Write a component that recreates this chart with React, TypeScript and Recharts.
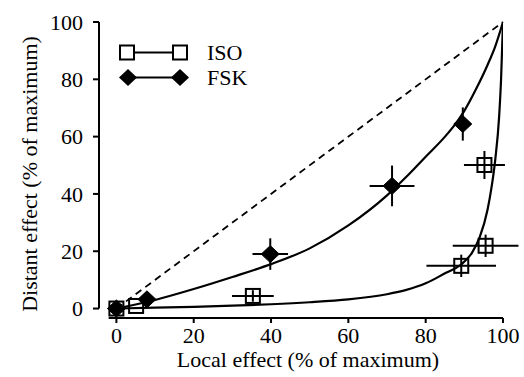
import React from "react";
import {
  ComposedChart,
  Line,
  Scatter,
  XAxis,
  YAxis,
  ErrorBar,
  ReferenceLine,
} from "recharts";

// ---- data ----
const xTicks = [0, 20, 40, 60, 80, 100];
const yTicks = [0, 20, 40, 60, 80, 100];

const isoPoints = [
  { x: 0, y: 0, ex: 0, ey: 0 },
  { x: 5.1, y: 0.9, ex: 0, ey: 0 },
  { x: 35.3, y: 4.4, ex: 5.4, ey: 2 },
  { x: 89.2, y: 14.9, ex: 9, ey: 3.9 },
  { x: 95.5, y: 21.9, ex: 8.5, ey: 3.9 },
  { x: 95.2, y: 50.1, ex: 5.3, ey: 4.9 },
];

const fskPoints = [
  { x: 0, y: 0, ex: 0, ey: 0 },
  { x: 7.9, y: 3.2, ex: 0, ey: 0 },
  { x: 39.8, y: 19.0, ex: 4.6, ey: 5.5 },
  { x: 71.3, y: 42.8, ex: 5.8, ey: 7.1 },
  { x: 89.6, y: 64.4, ex: 2, ey: 5.8 },
];

const isoCurveX = [0, 10, 20, 30, 40, 50, 60, 70, 75, 80, 85, 89, 92, 94, 96, 97, 98, 99, 99.5, 100];
const isoCurveY = [0, 0.3, 0.6, 1.0, 1.5, 2.2, 3.2, 5.0, 6.5, 8.8, 12.3, 15.2, 19.5, 25, 34.5, 42, 52, 67, 80, 100];

const fskCurveX = [0, 10, 20, 30, 40, 50, 60, 70, 75, 80, 85, 88, 90, 93, 96, 98, 100];
const fskCurveY = [0, 3, 6.8, 11, 15.5, 21, 29, 39.5, 46, 53, 60, 65, 69, 76.5, 85, 91.5, 100];

const isoCurve = isoCurveX.map((x, i) => ({ x, y: isoCurveY[i] }));
const fskCurve = fskCurveX.map((x, i) => ({ x, y: fskCurveY[i] }));

const FONT = "Liberation Serif, Times New Roman, DejaVu Serif, serif";
const fontStyle = { fontFamily: FONT };

const SquareShape = (props: any) => {
  const { cx, cy } = props;
  if (cx == null || cy == null) return null;
  return (
    <rect x={cx - 7} y={cy - 7} width={14} height={14} fill="none" stroke="#000" strokeWidth={2} />
  );
};

const DiamondShape = (props: any) => {
  const { cx, cy } = props;
  if (cx == null || cy == null) return null;
  return (
    <polygon
      points={`${cx},${cy - 8.5} ${cx + 9},${cy} ${cx},${cy + 8.5} ${cx - 9},${cy}`}
      fill="#000"
      stroke="#000"
      strokeWidth={1}
    />
  );
};

const YLabel = () => (
  <text
    x={37}
    y={174}
    transform="rotate(-90 37 174)"
    textAnchor="middle"
    style={fontStyle}
    fontSize={22}
    fill="#000"
  >
    Distant effect (% of maximum)
  </text>
);

const XLabel = () => (
  <text x={308} y={367} textAnchor="middle" style={fontStyle} fontSize={22} fill="#000">
    Local effect (% of maximum)
  </text>
);

export default function App() {
  return (
    <div
      style={{
        position: "absolute",
        left: 0,
        top: 0,
        width: 524,
        height: 377,
        background: "#fff",
        fontFamily: FONT,
      }}
    >
      <ComposedChart
        width={524}
        height={377}
        margin={{ top: 22, right: 21, bottom: 29, left: 0 }}
        style={{ position: "absolute", left: 0, top: 0, fontFamily: FONT }}
      >
        <XAxis
          type="number"
          dataKey="x"
          domain={[-4.5, 100]}
          ticks={xTicks}
          allowDataOverflow
          height={30}
          axisLine={false}
          tickLine={{ stroke: "#000", strokeWidth: 2 }}
          tickSize={5}
          tickMargin={4}
          tick={{ fill: "#000", fontFamily: FONT, fontSize: 22, style: fontStyle }}
          label={<XLabel />}
        />
        <YAxis
          type="number"
          dataKey="y"
          domain={[-3.3, 100]}
          ticks={yTicks}
          allowDataOverflow
          width={99}
          axisLine={false}
          tickLine={{ stroke: "#000", strokeWidth: 2 }}
          tickSize={6}
          tickMargin={10}
          tick={{ fill: "#000", fontFamily: FONT, fontSize: 22, style: fontStyle }}
          label={<YLabel />}
        />
        <ReferenceLine
          segment={[{ x: -4.5, y: 0 }, { x: -4.5, y: 100 }]}
          stroke="#000"
          strokeWidth={2}
          ifOverflow="visible"
        />
        <ReferenceLine
          segment={[{ x: -2, y: -3.3 }, { x: 100, y: -3.3 }]}
          stroke="#000"
          strokeWidth={2}
          ifOverflow="visible"
        />
        <ReferenceLine
          segment={[{ x: 0, y: 0 }, { x: 100, y: 100 }]}
          stroke="#000"
          strokeWidth={1.8}
          strokeDasharray="7 5"
          ifOverflow="visible"
        />
        <Line
          data={isoCurve}
          dataKey="y"
          type="monotone"
          stroke="#000"
          strokeWidth={2.2}
          dot={false}
          activeDot={false}
          isAnimationActive={false}
        />
        <Line
          data={fskCurve}
          dataKey="y"
          type="monotone"
          stroke="#000"
          strokeWidth={2.2}
          dot={false}
          activeDot={false}
          isAnimationActive={false}
        />
        <Scatter data={fskPoints} dataKey="y" shape={<DiamondShape />} isAnimationActive={false}>
          <ErrorBar dataKey="ex" direction="x" width={0} stroke="#000" strokeWidth={2} />
          <ErrorBar dataKey="ey" direction="y" width={0} stroke="#000" strokeWidth={2} />
        </Scatter>
        <Scatter data={isoPoints} dataKey="y" shape={<SquareShape />} isAnimationActive={false}>
          <ErrorBar dataKey="ex" direction="x" width={0} stroke="#000" strokeWidth={2} />
          <ErrorBar dataKey="ey" direction="y" width={0} stroke="#000" strokeWidth={2} />
        </Scatter>
      </ComposedChart>
      <svg
        width={524}
        height={377}
        style={{ position: "absolute", left: 0, top: 0, pointerEvents: "none", fontFamily: FONT }}
      >
        <line x1={134} y1={52.5} x2={173} y2={52.5} stroke="#000" strokeWidth={2} />
        <rect x={120} y={45.5} width={14} height={14} fill="#fff" stroke="#000" strokeWidth={2} />
        <rect x={173} y={45.5} width={14} height={14} fill="#fff" stroke="#000" strokeWidth={2} />
        <text x={207} y={60} style={fontStyle} fontSize={22} fill="#000">ISO</text>
        <line x1={128} y1={77.5} x2={180} y2={77.5} stroke="#000" strokeWidth={2} />
        <polygon points="128,69 137,77.5 128,86 119,77.5" fill="#000" />
        <polygon points="180,69 189,77.5 180,86 171,77.5" fill="#000" />
        <text x={207} y={85} style={fontStyle} fontSize={22} fill="#000">FSK</text>
      </svg>
    </div>
  );
}
